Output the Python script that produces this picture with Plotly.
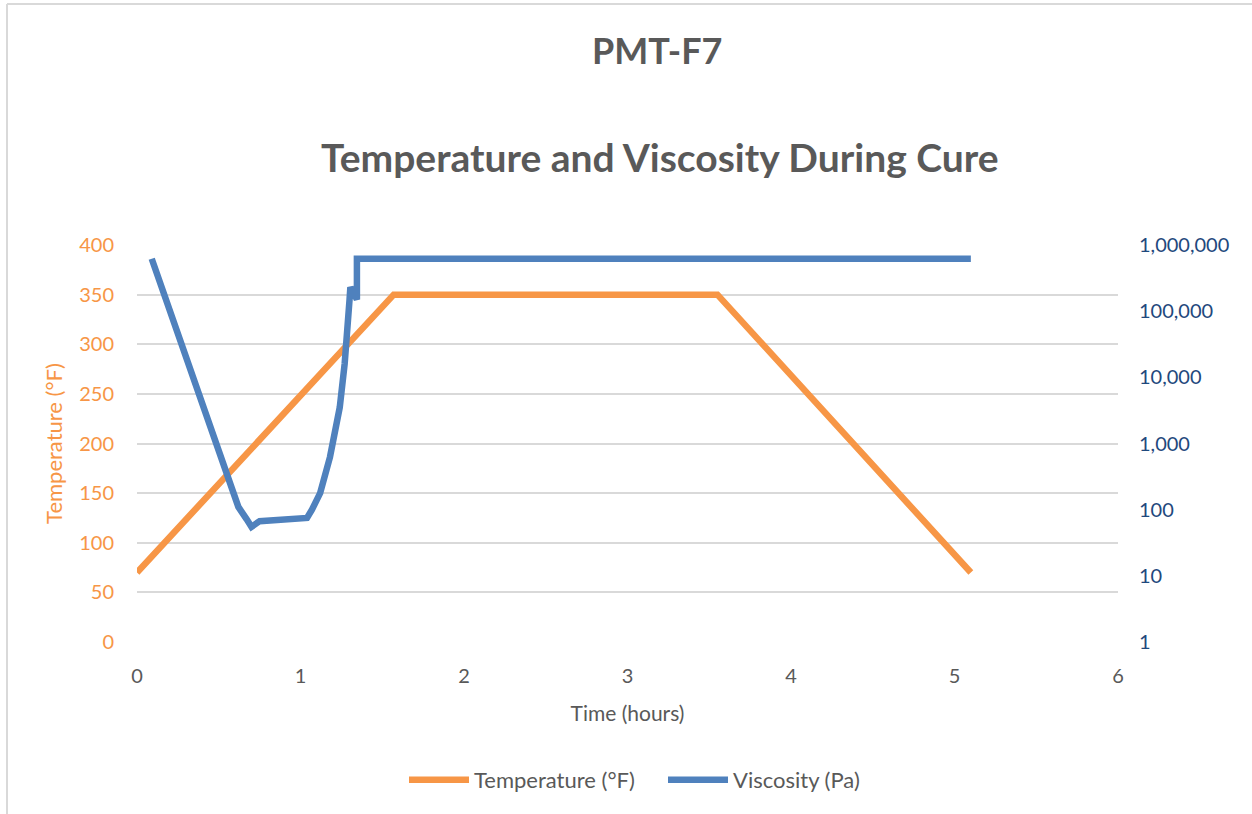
import plotly.graph_objects as go

# ---- data ----
temp_time = [0, 1.57, 3.55, 5.10]
temp_values = [70, 350, 350, 70]

visc_time = [0.09, 0.62, 0.67, 0.70, 0.75, 0.85, 1.04, 1.07, 1.12, 1.18, 1.24,
             1.27, 1.28, 1.30, 1.305, 1.315, 1.345, 1.345, 1.352, 5.10]
visc_values = [620000, 110, 72, 55, 67, 71, 75, 100, 178, 620, 3500,
               16000, 47000, 150000, 230000, 200000, 150000, 620000, 620000, 620000]

left_ticks = [0, 50, 100, 150, 200, 250, 300, 350, 400]
right_ticks = [1, 10, 100, 1000, 10000, 100000, 1000000]
right_ticktext = ["1", "10", "100", "1,000", "10,000", "100,000", "1,000,000"]
x_ticks = [0, 1, 2, 3, 4, 5, 6]

ORANGE = "#F79646"
BLUE = "#4F81BD"
DARKBLUE = "#1F497D"
GRAY = "#595959"
GRID = "#D9D9D9"
FONT = "Lato"

fig = go.Figure()
fig.add_trace(go.Scatter(x=temp_time, y=temp_values, mode="lines",
                         name="Temperature (°F)",
                         line=dict(color=ORANGE, width=6.5), yaxis="y"))
fig.add_trace(go.Scatter(x=visc_time, y=visc_values, mode="lines",
                         name="Viscosity (Pa)",
                         line=dict(color=BLUE, width=6.5), yaxis="y2"))

W, H = 1252, 814
L, R, T, B = 137, 134, 245, 172
pw, ph = W - L - R, H - T - B

def px(xp):
    return (xp - L) / pw

def py(yp):
    return (H - B - yp) / ph

fig.update_layout(
    width=W, height=H,
    margin=dict(l=L, r=R, t=T, b=B, autoexpand=False),
    paper_bgcolor="white", plot_bgcolor="white",
    font=dict(family=FONT, size=20, color=GRAY),
    showlegend=True,
    legend=dict(orientation="h", x=px(404), xanchor="left",
                y=py(780), yanchor="middle", itemwidth=60,
                entrywidth=184, entrywidthmode="pixels",
                font=dict(family=FONT, size=22, color=GRAY),
                traceorder="normal"),
    xaxis=dict(range=[0, 6], tickvals=x_ticks, showgrid=False,
               zeroline=False, showline=False, ticks="",
               tickfont=dict(size=20, color=GRAY),
               ticklabelstandoff=20,
               title=dict(text="Time (hours)", font=dict(size=21, color=GRAY),
                          standoff=20)),
    yaxis=dict(range=[0, 400], tickvals=left_ticks, showgrid=True,
               gridcolor=GRID, gridwidth=1.5, zeroline=False, showline=False,
               ticks="", tickfont=dict(size=20, color=ORANGE),
               ticklabelstandoff=22,
               title=dict(text="Temperature (°F)",
                          font=dict(size=22, color=ORANGE), standoff=10)),
    yaxis2=dict(type="log", range=[0, 6], overlaying="y", side="right",
                tickvals=right_ticks, ticktext=right_ticktext,
                showgrid=False, zeroline=False, showline=False, ticks="",
                tickfont=dict(size=20, color=DARKBLUE),
                ticklabelstandoff=20),
    annotations=[
        dict(text="<b>PMT-F7</b>", xref="paper", yref="paper",
             x=px(657), y=py(50), xanchor="center", yanchor="middle",
             showarrow=False, font=dict(family=FONT, size=36, color=GRAY)),
        dict(text="<b>Temperature and Viscosity During Cure</b>",
             xref="paper", yref="paper", x=px(660), y=py(157),
             xanchor="center", yanchor="middle", showarrow=False,
             font=dict(family=FONT, size=39, color=GRAY)),
    ],
    shapes=[
        dict(type="line", xref="paper", yref="paper",
             x0=px(7), x1=px(7), y0=py(4), y1=py(814),
             line=dict(color=GRID, width=2)),
        dict(type="line", xref="paper", yref="paper",
             x0=px(7), x1=px(1252), y0=py(4), y1=py(4),
             line=dict(color=GRID, width=2)),
    ],
)

fig.write_html("out.html",
               config={"displayModeBar": False},
               post_script="document.body.style.margin='0';"
                           "document.body.style.overflow='hidden';")
